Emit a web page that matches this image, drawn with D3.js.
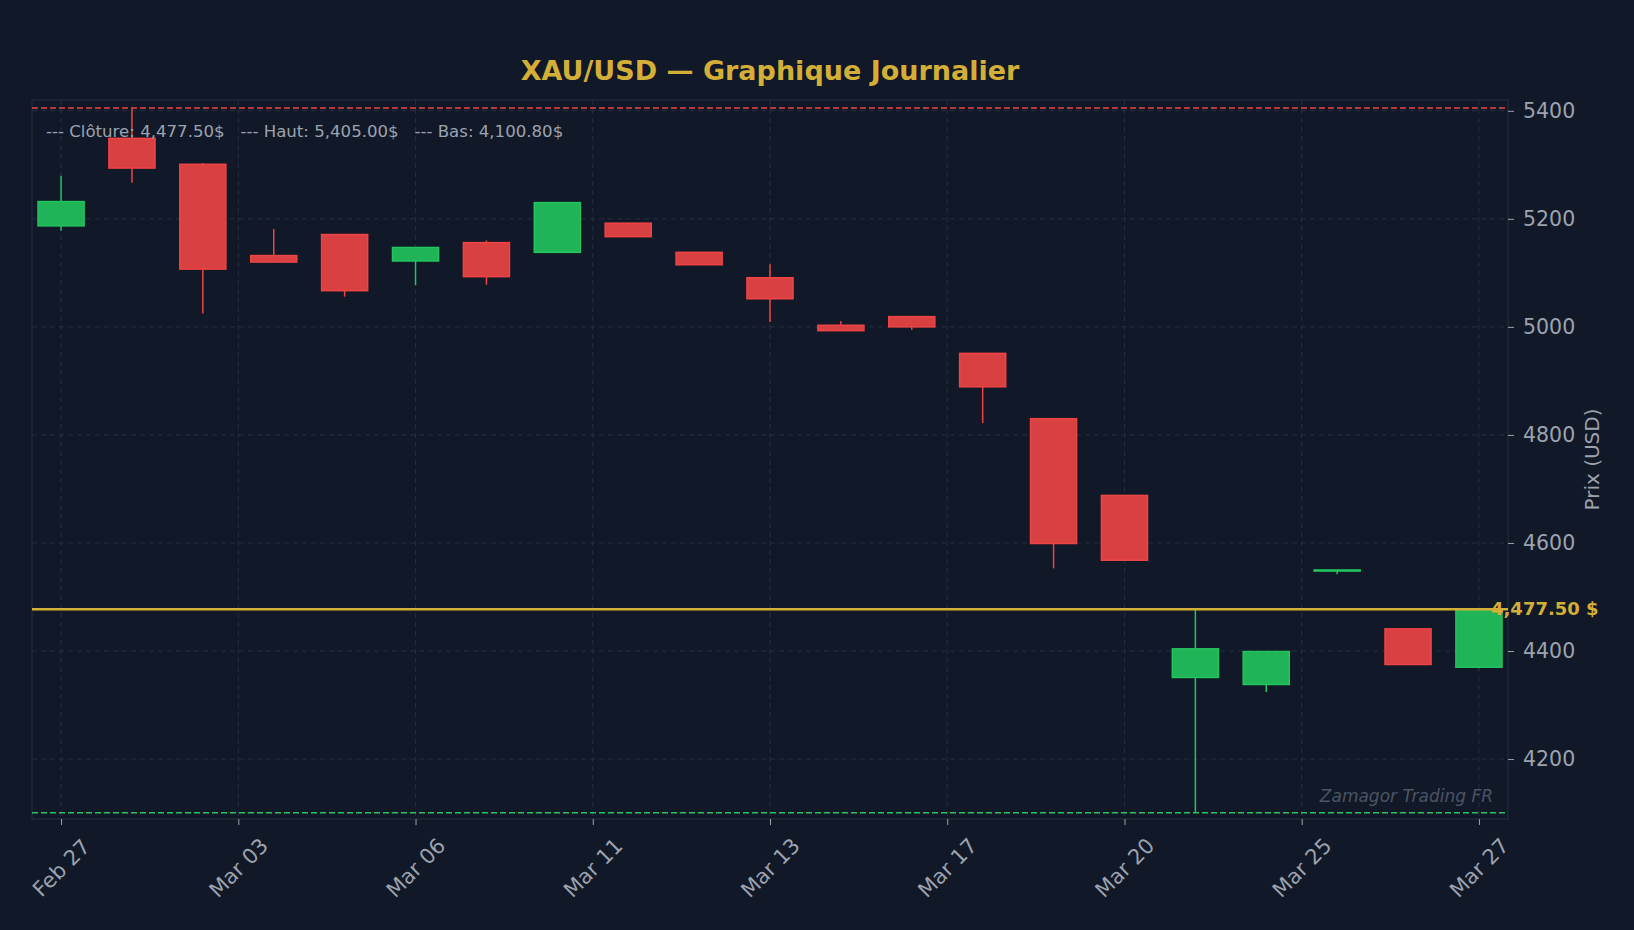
<!DOCTYPE html>
<html>
<head>
<meta charset="utf-8">
<script src="https://cdn.jsdelivr.net/npm/d3@7"></script>
<style>
  body { margin: 0; background: #111827; }
  svg { display: block; font-family: "DejaVu Sans", sans-serif; }
</style>
</head>
<body>
<div id="chart"></div>
<script>
// daily candles, index based (trading days)
var opens  = [5187, 5349, 5301, 5132, 5171, 5122, 5156, 5138, 5192, 5138, 5091, 5003, 5019, 4951, 4830, 4688, 4351, 4338, 4548, 4441, 4370];
var highs  = [5280, 5405, 5303, 5181, 5171, 5147, 5160, 5230, 5192, 5138, 5116, 5011, 5019, 4951, 4830, 4688, 4477.5, 4399, 4550, 4441, 4477.5];
var lows   = [5178, 5267, 5025, 5120, 5056, 5077, 5078, 5138, 5167, 5115, 5009, 4993, 4994, 4822, 4553, 4568, 4100.8, 4324, 4542, 4375, 4368];
var closes = [5232, 5294, 5107, 5120, 5067, 5147, 5093, 5230, 5167, 5115, 5052, 4993, 5000, 4889, 4599, 4568, 4404, 4399, 4550, 4375, 4477.5];

var tickIdx = [0, 2.5, 5, 7.5, 10, 12.5, 15, 17.5, 20];
var tickLabels = ["Feb 27", "Mar 03", "Mar 06", "Mar 11", "Mar 13", "Mar 17", "Mar 20", "Mar 25", "Mar 27"];
var yTicks = [4200, 4400, 4600, 4800, 5000, 5200, 5400];

var lastClose = 4477.5;
var highMax = 5405.0;
var lowMin = 4100.8;

var svgWidth = 1634;
var svgHeight = 930;
var plotL = 32, plotR = 1508, plotT = 100, plotB = 819;

var gold = "#d4af37";
var green = "#22c55e";
var red = "#ef4444";
var greenFill = "#20b458";
var redFill = "#d94041";
var grey = "#9ca3af";

var svg = d3.select("#chart")
  .append("svg")
  .attr("width", svgWidth)
  .attr("height", svgHeight);

svg.append("rect")
  .attr("width", svgWidth)
  .attr("height", svgHeight)
  .attr("fill", "#111827");

var xScale = d3.scaleLinear().domain([-0.41, 20.41]).range([plotL, plotR]);
var yScale = d3.scaleLinear().domain([4089, 5420]).range([plotB, plotT]);

// grid
svg.append("g").selectAll("line").data(yTicks).enter()
  .append("line")
  .attr("x1", plotL).attr("x2", plotR)
  .attr("y1", function(d){ return yScale(d); })
  .attr("y2", function(d){ return yScale(d); })
  .attr("stroke", "#243041")
  .attr("stroke-dasharray", "5,4");

svg.append("g").selectAll("line").data(tickIdx).enter()
  .append("line")
  .attr("y1", plotT).attr("y2", plotB)
  .attr("x1", function(d){ return xScale(d); })
  .attr("x2", function(d){ return xScale(d); })
  .attr("stroke", "#243041")
  .attr("stroke-dasharray", "5,4");

// frame
svg.append("rect")
  .attr("x", plotL).attr("y", plotT)
  .attr("width", plotR - plotL).attr("height", plotB - plotT)
  .attr("fill", "none")
  .attr("stroke", "#1f2937")
  .attr("stroke-width", 1.5);

// high / low reference lines
svg.append("line")
  .attr("x1", plotL).attr("x2", plotR)
  .attr("y1", yScale(highMax)).attr("y2", yScale(highMax))
  .attr("stroke", red).attr("stroke-width", 1.5)
  .attr("stroke-dasharray", "6,3");

svg.append("line")
  .attr("x1", plotL).attr("x2", plotR)
  .attr("y1", yScale(lowMin)).attr("y2", yScale(lowMin))
  .attr("stroke", green).attr("stroke-width", 1.5)
  .attr("stroke-dasharray", "6,3");

// candles
var candles = d3.range(opens.length).map(function(i){
  return { i: i, o: opens[i], h: highs[i], l: lows[i], c: closes[i] };
});
var bodyW = xScale(0.65) - xScale(0);

var g = svg.append("g").selectAll("g").data(candles).enter().append("g");

g.append("line")
  .attr("x1", function(d){ return xScale(d.i); })
  .attr("x2", function(d){ return xScale(d.i); })
  .attr("y1", function(d){ return yScale(d.h); })
  .attr("y2", function(d){ return yScale(d.l); })
  .attr("stroke", function(d){ return d.c >= d.o ? green : red; })
  .attr("stroke-width", 1.5);

g.append("rect")
  .attr("x", function(d){ return xScale(d.i) - bodyW / 2; })
  .attr("width", bodyW)
  .attr("y", function(d){ return yScale(Math.max(d.o, d.c)); })
  .attr("height", function(d){ return Math.max(1, yScale(Math.min(d.o, d.c)) - yScale(Math.max(d.o, d.c))); })
  .attr("fill", function(d){ return d.c >= d.o ? greenFill : redFill; })
  .attr("stroke", function(d){ return d.c >= d.o ? green : red; })
  .attr("stroke-width", 1.5);

// last close line
svg.append("line")
  .attr("x1", plotL).attr("x2", plotR)
  .attr("y1", yScale(lastClose)).attr("y2", yScale(lastClose))
  .attr("stroke", gold).attr("stroke-width", 2.5);

// axes
var yAxis = d3.axisRight(yScale).tickValues(yTicks).tickSize(6).tickPadding(9)
  .tickFormat(d3.format("d"));
var yG = svg.append("g")
  .attr("transform", "translate(" + plotR + ",0)")
  .call(yAxis);
yG.select(".domain").remove();
yG.selectAll(".tick line").attr("stroke", grey);
yG.selectAll(".tick text")
  .attr("fill", grey)
  .attr("font-size", 20.5)
  .attr("font-family", "DejaVu Sans");

var xAxis = d3.axisBottom(xScale).tickValues(tickIdx).tickSize(6)
  .tickFormat(function(d, i){ return tickLabels[i]; });
var xG = svg.append("g")
  .attr("transform", "translate(0," + plotB + ")")
  .call(xAxis);
xG.select(".domain").remove();
xG.selectAll(".tick line").attr("stroke", grey);
xG.selectAll(".tick text")
  .attr("fill", grey)
  .attr("font-size", 21)
  .attr("font-family", "DejaVu Sans")
  .attr("text-anchor", "middle")
  .attr("dominant-baseline", "central")
  .attr("y", 0).attr("dy", null)
  .attr("transform", "translate(0,49) rotate(-45)");

// close label
svg.append("text")
  .attr("x", plotR - 17)
  .attr("y", yScale(lastClose))
  .attr("dy", "0.35em")
  .attr("fill", gold)
  .attr("font-size", 18)
  .attr("font-weight", "bold")
  .text("4,477.50 $");

// y label
svg.append("text")
  .attr("transform", "translate(1599," + ((plotT + plotB) / 2) + ") rotate(-90)")
  .attr("text-anchor", "middle")
  .attr("fill", grey)
  .attr("font-size", 20)
  .text("Prix (USD)");

// title
svg.append("text")
  .attr("x", (plotL + plotR) / 2)
  .attr("y", 80)
  .attr("text-anchor", "middle")
  .attr("fill", gold)
  .attr("font-size", 27)
  .attr("font-weight", "bold")
  .text("XAU/USD — Graphique Journalier");

// info line
svg.append("text")
  .attr("x", 46)
  .attr("y", 137)
  .attr("fill", grey)
  .attr("font-size", 16.6)
  .style("white-space", "pre")
  .text("--- Clôture: 4,477.50$   --- Haut: 5,405.00$   --- Bas: 4,100.80$");

// watermark
svg.append("text")
  .attr("x", 1493)
  .attr("y", 802)
  .attr("text-anchor", "end")
  .attr("fill", "#4b5563")
  .attr("font-size", 17)
  .attr("font-style", "italic")
  .text("Zamagor Trading FR");
</script>
</body>
</html>
